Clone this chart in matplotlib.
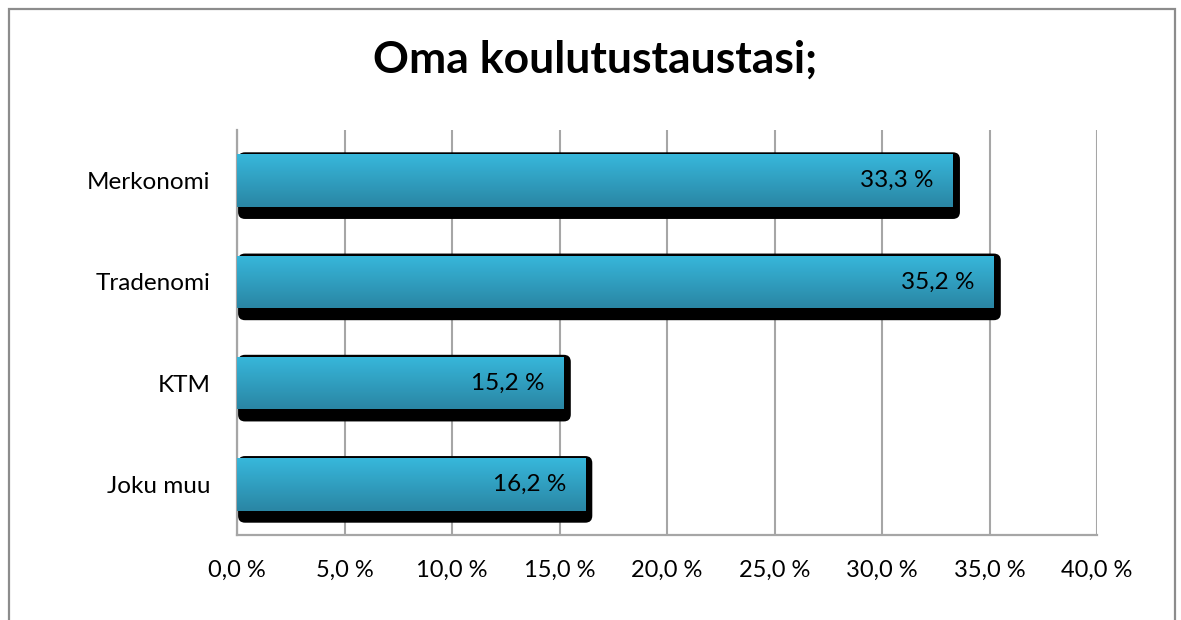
import matplotlib
matplotlib.use("Agg")
import matplotlib.pyplot as plt
import numpy as np
from matplotlib.colors import LinearSegmentedColormap
from matplotlib.patches import FancyBboxPatch, Rectangle
from matplotlib.transforms import IdentityTransform

plt.rcParams["font.family"] = ["Lato", "DejaVu Sans"]

categories = ["Merkonomi", "Tradenomi", "KTM", "Joku muu"]
values = [33.3, 35.2, 15.2, 16.2]
value_labels = ["33,3 %", "35,2 %", "15,2 %", "16,2 %"]
xticks = [0, 5, 10, 15, 20, 25, 30, 35, 40]
xtick_labels = ["0,0 %", "5,0 %", "10,0 %", "15,0 %", "20,0 %",
                "25,0 %", "30,0 %", "35,0 %", "40,0 %"]
title = "Oma koulutustaustasi;"

W, H, DPI = 1181, 620, 100
fig = plt.figure(figsize=(W / DPI, H / DPI), dpi=DPI)
fig.patch.set_facecolor("white")

# outer chart frame (bottom edge falls outside the picture)
fig.add_artist(Rectangle((9 / W, -0.05), (1175 - 9) / W, 1.05 - 9 / H,
                         transform=fig.transFigure, fill=False,
                         edgecolor="#8c8c8c", lw=1.6))

ax = fig.add_axes([237 / W, 1 - 535 / H, (1097 - 237) / W, (535 - 130) / H])
ypos = np.arange(len(categories))
bar_h = 0.52

ax.set_xlim(0, 40)
ax.set_ylim(len(categories) - 0.5, -0.5)
ax.set_xticks(xticks)
ax.set_xticklabels(xtick_labels, fontsize=17)
ax.set_yticks(ypos)
ax.set_yticklabels(categories, fontsize=17.5)
ax.tick_params(axis="x", length=0, pad=18)
ax.tick_params(axis="y", length=0, pad=19)
ax.grid(axis="x", color="#a6a6a6", lw=1.5, zorder=0)
ax.set_axisbelow(True)
for s in ("top", "right"):
    ax.spines[s].set_visible(False)
for s in ("left", "bottom"):
    ax.spines[s].set_color("#a6a6a6")
    ax.spines[s].set_linewidth(1.6)

bars = ax.barh(ypos, values, height=bar_h, color="#31a7c9", zorder=3)

# black drop shadows, computed in pixel space from the data transform
for rect in bars:
    x0, y0 = rect.get_x(), rect.get_y()
    (px0, py_a), (px1, py_b) = ax.transData.transform(
        [(x0, y0), (x0 + rect.get_width(), y0 + rect.get_height())])
    top, bot = max(py_a, py_b), min(py_a, py_b)
    sh = FancyBboxPatch((px0 + 1, bot - 12), (px1 - px0) + 6, (top + 2) - (bot - 12),
                        boxstyle="round,pad=0,rounding_size=7",
                        transform=IdentityTransform(), facecolor="black",
                        edgecolor="none", zorder=2)
    ax.add_artist(sh)

# vertical gradient fill for each bar
grad = np.linspace(0, 1, 64).reshape(-1, 1)
cmap = LinearSegmentedColormap.from_list("bar", ["#37b7db", "#2a86a4"])
for rect in bars:
    x0, y0 = rect.get_x(), rect.get_y()
    w, h = rect.get_width(), rect.get_height()
    im = ax.imshow(grad, cmap=cmap, aspect="auto",
                   extent=(x0, x0 + w, y0 + h, y0), zorder=4,
                   interpolation="bicubic")
    im.set_clip_path(rect)
ax.set_xlim(0, 40)
ax.set_ylim(len(categories) - 0.5, -0.5)

for y, v, lab in zip(ypos, values, value_labels):
    ax.annotate(lab, (v, y), xytext=(-19, 0), textcoords="offset pixels",
                ha="right", va="center", fontsize=17.5, color="black", zorder=5)

fig.text(595 / W, 1 - 60 / H, title, ha="center", va="center",
         fontsize=32, fontweight="bold")

fig.savefig("out.png", dpi=DPI)
